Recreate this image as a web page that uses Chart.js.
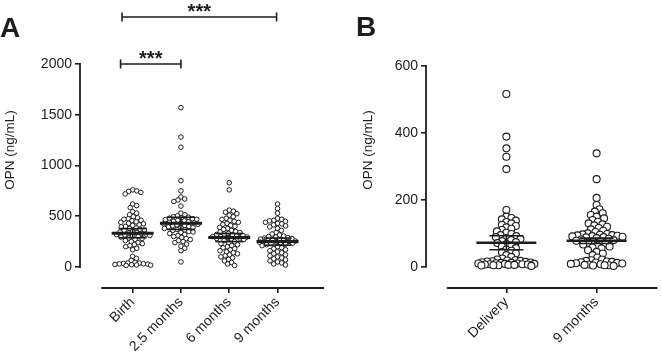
<!DOCTYPE html>
<html>
<head>
<meta charset="utf-8">
<script src="https://cdn.jsdelivr.net/npm/chart.js@4/dist/chart.umd.min.js"></script>
<style>
html,body{margin:0;padding:0;background:#fff;}
#wrap{position:relative;width:662px;height:357px;overflow:hidden;font-family:"Liberation Sans",Arial,sans-serif;}
.panel{position:absolute;top:0;height:357px;}
#pa{left:0;width:330px;}
#pb{left:330px;width:332px;}
.tag{position:absolute;font-weight:bold;font-size:28px;line-height:1;color:#1d1d1d;}
</style>
</head>
<body>
<div id="wrap">
  <div class="panel" id="pa"><canvas id="chartA" width="330" height="357"></canvas></div>
  <div class="panel" id="pb"><canvas id="chartB" width="332" height="357"></canvas></div>
  <div class="tag" style="left:0;top:14px">A</div>
  <div class="tag" style="left:356px;top:13px">B</div>
</div>
<script>
// Panel A data (OPN ng/mL)
const catsA = ['Birth', '2.5 months', '6 months', '9 months'];
const birth = [760,750,745,735,720,620,605,585,545,530,515,495,485,475,470,460,455,445,440,430,425,415,410,400,395,385,380,370,365,360,350,345,340,335,330,325,320,315,310,305,300,295,285,280,270,260,250,240,230,220,210,200,185,170,105,85,65,45,40,38,35,32,30,28,25,22,20,18,15];
const m2_5 = [1570,1280,1180,850,750,690,670,660,645,600,530,515,505,495,490,485,480,475,470,465,460,455,450,445,440,435,430,425,420,415,410,405,400,395,390,385,380,370,365,360,350,345,340,330,320,310,300,290,280,270,260,250,240,225,205,185,160,50];
const m6 = [830,760,560,550,540,525,510,495,480,470,460,450,440,430,420,410,400,390,380,370,360,350,345,340,330,325,320,315,310,305,300,300,295,290,285,280,275,270,260,250,240,230,220,210,200,190,180,170,160,150,140,130,120,110,100,90,75,60,45,30,15];
const m9 = [620,575,530,480,470,460,455,450,440,430,425,415,405,395,380,360,340,325,315,305,300,295,290,285,280,275,270,265,260,258,255,252,250,248,245,240,235,230,225,220,210,200,190,180,170,160,150,140,130,120,110,100,90,80,70,60,50,40,30,20];
const meansA = [333, 430, 290, 250];
const errsA = [45, 60, 40, 35];
const yTicksA = [0, 500, 1000, 1500, 2000];

// Panel B data
const catsB = ['Delivery', '9 months'];
const delivery = [516,389,354,329,292,170,150,146,142,138,134,130,126,122,118,114,110,106,102,98,95,92,89,86,83,80,77,74,71,68,64,60,56,52,48,44,40,35,30,25,22,20,19,18,17,16,15,14,13,12,12,11,10,10,9,9,8,8,7,7,6,6,5,5,4,3];
const nineB = [339,262,206,185,172,165,160,155,150,145,140,135,130,127,124,120,116,112,108,104,100,98,97,96,95,94,93,92,91,90,89,88,86,84,82,80,78,76,74,72,70,67,64,61,58,55,50,45,40,35,28,22,20,18,16,15,14,13,12,11,10,9,8,7,6,5,5,4,3];
const meansB = [72, 78];
const errsB = [21, 8];
const yTicksB = [0, 200, 400, 600];

// significance brackets, panel A
const bracketsA = [
  {from: -0.25, to: 1, y: 2000, label: '***'},
  {from: -0.22, to: 2.98, y: 2463, label: '***'}
];

const ink = '#1d1d1d';
const FONT = '"Liberation Sans", Arial, sans-serif';

// place points side by side (pixel space); crowded rows overlap within maxHalf
function swarm(vals, yScale, D, maxHalf){
  const placed = [];
  const out = new Array(vals.length);
  const order = vals.map((v,i)=>({i, py:yScale.getPixelForValue(v)})).sort((a,b)=>a.py-b.py);
  for(const p of order){
    const near = placed.filter(q=>Math.abs(q.py-p.py)<D);
    const cands = [0];
    near.forEach(q=>{const dx=Math.sqrt(D*D-(q.py-p.py)**2); cands.push(q.px+dx, q.px-dx);});
    cands.sort((a,b)=>Math.abs(a)-Math.abs(b));
    let px = null;
    for(const c of cands){
      if(Math.abs(c) > maxHalf) break;
      if(near.every(q=>(q.px-c)**2+(q.py-p.py)**2 >= D*D-0.01)){ px=c; break; }
    }
    if(px === null){
      let best = -1;
      for(let c=-maxHalf; c<=maxHalf; c+=0.5){
        const d = Math.min(...near.map(q=>Math.hypot(q.px-c, q.py-p.py)));
        if(d > best+0.01 || (Math.abs(d-best)<=0.01 && Math.abs(c)<Math.abs(px))){ best=d; px=c; }
      }
    }
    p.px = px; placed.push(p); out[p.i] = px;
  }
  return out;
}

const prismPlugin = {
  id:'prism',
  afterDatasetsDraw(chart, args, o){
    const {ctx, chartArea, scales:{x, y}} = chart;
    const seg = (x1,y1,x2,y2)=>{ctx.beginPath();ctx.moveTo(x1,y1);ctx.lineTo(x2,y2);ctx.stroke();};
    ctx.save();
    ctx.strokeStyle = ink;
    // mean + error bars
    o.means.forEach((m,i)=>{
      const cx = x.getPixelForValue(i);
      const my = y.getPixelForValue(m);
      const ty = y.getPixelForValue(m+o.errs[i]);
      const by = y.getPixelForValue(m-o.errs[i]);
      ctx.lineWidth = o.errWidth;
      seg(cx,ty,cx,by);
      seg(cx-o.capHalf,ty,cx+o.capHalf,ty);
      seg(cx-o.capHalf,by,cx+o.capHalf,by);
      ctx.lineWidth = o.meanWidth;
      seg(cx-o.meanHalf,my,cx+o.meanHalf,my);
    });
    // axis lines
    ctx.lineWidth = 1.8;
    const t = o.yTicks;
    seg(chartArea.left, y.getPixelForValue(t[t.length-1])-0.9, chartArea.left, y.getPixelForValue(t[0])+0.9);
    seg(x.getPixelForValue(o.axisStart), chartArea.bottom, chartArea.right, chartArea.bottom);
    // stars
    ctx.fillStyle = ink;
    ctx.font = 'bold 20px ' + FONT;
    ctx.textAlign = 'center';
    ctx.textBaseline = 'alphabetic';
    (o.brackets||[]).forEach(b=>{
      const cx = (x.getPixelForValue(b.from)+x.getPixelForValue(b.to))/2;
      ctx.fillText(b.label, cx, y.getPixelForValue(b.y)+1);
    });
    ctx.restore();
  }
};

function build(id, p){
  const groupSets = p.groups.map(g=>({
    type:'scatter',
    data:g.map(v=>({x:0,y:v})),
    pointRadius:p.r, pointHoverRadius:p.r,
    pointBorderWidth:p.bw,
    borderColor:ink, backgroundColor:'#fff'
  }));
  const bracketSets = (p.brackets||[]).map(b=>({
    type:'scatter', showLine:true,
    data:[{x:b.from,y:b.y},{x:b.to,y:b.y}],
    borderColor:ink, borderWidth:1.6,
    pointStyle:'line', rotation:90, pointRadius:4.5, pointBorderWidth:1.6,
    pointBorderColor:ink, clip:false
  }));
  const chart = new Chart(document.getElementById(id), {
    type:'scatter',
    data:{datasets:[...groupSets, ...bracketSets]},
    options:{
      responsive:false, animation:false,
      layout:{padding:{left:p.padLeft, top:12, right:0, bottom:0}},
      plugins:{
        legend:{display:false}, tooltip:{enabled:false},
        prism:{means:p.means, errs:p.errs, meanHalf:p.meanHalf, capHalf:p.capHalf,
               meanWidth:p.meanWidth, errWidth:p.errWidth, yTicks:p.yTicks,
               axisStart:p.axisStart, brackets:p.brackets}
      },
      scales:{
        x:{type:'linear', min:p.xMin, max:p.xMax,
           afterBuildTicks:s=>{s.ticks=p.cats.map((c,i)=>({value:i}));},
           afterFit:s=>{s.height=69;},
           border:{display:false},
           grid:{drawOnChartArea:false, tickLength:5, color:ink, lineWidth:1.6},
           ticks:{color:ink, font:{size:14, family:FONT}, autoSkip:false,
                  minRotation:45, maxRotation:45, padding:1,
                  callback:v=>p.cats[Math.round(v)]}},
        y:{type:'linear', min:p.yMin, max:p.yMax,
           afterBuildTicks:s=>{s.ticks=p.yTicks.map(v=>({value:v}));},
           afterFit:s=>{s.width=p.yWidth;},
           border:{display:false},
           grid:{drawOnChartArea:false, tickLength:5, color:ink, lineWidth:1.6},
           ticks:{color:ink, font:{size:14, family:FONT}, padding:3, callback:v=>String(v)},
           title:{display:true, text:'OPN (ng/mL)', color:ink,
                  font:{size:13.5, family:FONT}, padding:{top:2, bottom:0}}}
      }
    },
    plugins:[prismPlugin]
  });
  // beeswarm offsets from the drawn scales
  const xs = chart.scales.x, ys = chart.scales.y;
  const ppu = xs.getPixelForValue(1) - xs.getPixelForValue(0);
  p.groups.forEach((g,gi)=>{
    const off = swarm(g, ys, p.collide, p.maxHalf);
    chart.data.datasets[gi].data = g.map((v,i)=>({x:gi+off[i]/ppu, y:v}));
  });
  chart.update('none');
  return chart;
}

build('chartA', {
  cats:catsA, groups:[birth, m2_5, m6, m9], means:meansA, errs:errsA, yTicks:yTicksA,
  yMin:-207, yMax:2512, xMin:-1.09, xMax:3.96, axisStart:-0.65,
  padLeft:0, yWidth:80, r:2.3, bw:1, collide:4.3, maxHalf:18,
  meanHalf:21, capHalf:14, meanWidth:3, errWidth:1.6, brackets:bracketsA
});

build('chartB', {
  cats:catsB, groups:[delivery, nineB], means:meansB, errs:errsB, yTicks:yTicksB,
  yMin:-63, yMax:761, xMin:-0.891, xMax:1.674, axisStart:-0.66,
  padLeft:28, yWidth:68, r:3.5, bw:1.1, collide:5.2, maxHalf:28,
  meanHalf:30, capHalf:17, meanWidth:2.4, errWidth:1.6
});
</script>
</body>
</html>
